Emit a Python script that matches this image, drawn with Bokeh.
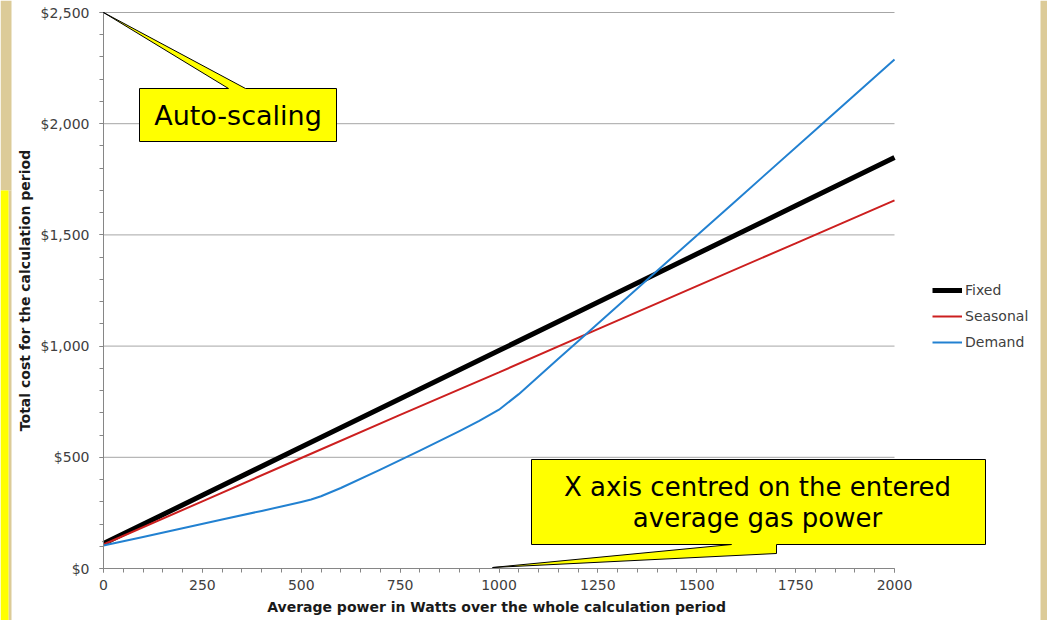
from bokeh.plotting import figure
from bokeh.models import (SingleIntervalTicker, NumeralTickFormatter, Legend, LegendItem,
                          PolyAnnotation, Label, Range1d)
from bokeh.embed import file_html
from bokeh.resources import INLINE

# ---- data ----
power = [0, 250, 500, 750, 1000, 1250, 1500, 1750, 2000]
fixed_cost = [112, 329, 546, 763, 980, 1197, 1414, 1631, 1848]
seasonal_cost = [108, 302, 497, 691, 882, 1076, 1270, 1462, 1655]
demand_power = [0, 100, 200, 300, 400, 450, 500, 525, 550, 600, 700, 800, 900, 950,
                1000, 1050, 1100, 1150, 1200, 1400, 1600, 1800, 2000]
demand_cost = [103, 142, 181, 220, 259, 279, 299, 310, 325, 362, 445, 530, 618, 664,
               714, 784, 863, 943, 1022, 1339, 1655, 1972, 2289]
series_names = ["Fixed", "Seasonal", "Demand"]
cost_gridlines = [500, 1000, 1500, 2000, 2500]
x_title = "Average power in Watts  over the whole calculation period"
y_title = "Total cost for the calculation period"
note1 = "Auto-scaling"
note2 = ["X axis centred on the entered", "average gas power"]

FONT = "DejaVu Sans"
AXIS_GRAY = "#868686"
TEXT_GRAY = "#404040"

W, H = 1047, 620
# plot area in page pixels: x 103..894 for 0..2000 W, y 568..12 for $0..$2,500
PX_L, PX_R, PY_B, PY_T = 103, 894, 568, 12
kx = (PX_R - PX_L) / 2000.0
ky = (PY_B - PY_T) / 2500.0
X0, X1 = -PX_L / kx, (W - PX_L) / kx
Y0, Y1 = -(H - PY_B) / ky, (PY_B) / ky


def dx(px):
    return X0 + px / kx


def dy(py):
    return Y1 - py / ky


p = figure(width=W, height=H, min_border=0,
           x_range=Range1d(X0, X1), y_range=Range1d(Y0, Y1),
           output_backend="svg", toolbar_location=None,
           background_fill_color="white", border_fill_color="white")
p.outline_line_color = None

# page edge strips
p.quad(left=[dx(0)], right=[dx(11)], bottom=[dy(190)], top=[dy(0)],
       fill_color="#DCCB98", line_color=None)
p.quad(left=[dx(8)], right=[dx(11)], bottom=[dy(H)], top=[dy(190)],
       fill_color="#DCCB98", line_color=None)
p.quad(left=[dx(0)], right=[dx(8)], bottom=[dy(H)], top=[dy(190)],
       fill_color="#FFFF00", line_color=None)
p.quad(left=[dx(1040)], right=[dx(W)], bottom=[dy(H)], top=[dy(0)],
       fill_color="#DCCB98", line_color=None)

# axes
p.xaxis.ticker = SingleIntervalTicker(interval=250, num_minor_ticks=5)
p.yaxis.ticker = SingleIntervalTicker(interval=500, num_minor_ticks=5)
p.yaxis.formatter = NumeralTickFormatter(format="$0,0")
p.xaxis.fixed_location = 0
p.yaxis.fixed_location = 0
p.xaxis.bounds = (0, 2000)
p.yaxis.bounds = (0, 2500)
for ax in (p.xaxis, p.yaxis):
    ax.axis_line_color = AXIS_GRAY
    ax.major_tick_line_color = AXIS_GRAY
    ax.minor_tick_line_color = AXIS_GRAY
    ax.major_tick_in = 0
    ax.major_tick_out = 4
    ax.minor_tick_in = 0
    ax.minor_tick_out = 4
    ax.major_label_text_font = FONT
    ax.major_label_text_font_size = "14px"
    ax.major_label_text_color = TEXT_GRAY
    ax.axis_label_text_font = FONT
    ax.axis_label_text_font_size = "14px"
    ax.axis_label_text_font_style = "bold"
    ax.axis_label_text_color = "#1a1a1a"
p.xaxis.axis_label = x_title
p.yaxis.axis_label = y_title
p.yaxis.major_label_standoff = 10
p.xaxis.major_label_standoff = 7
p.yaxis.axis_label_standoff = 5
p.xaxis.axis_label_standoff = 6

p.xgrid.grid_line_color = None
p.ygrid.grid_line_color = None
p.segment(x0=[0] * len(cost_gridlines), x1=[2000] * len(cost_gridlines),
          y0=cost_gridlines, y1=cost_gridlines, line_color="#A6A6A6", line_width=1)

# series
r_fixed = p.line(power, fixed_cost, line_color="black", line_width=5)
r_seas = p.line(power, seasonal_cost, line_color="#CC1F1F", line_width=2)
r_dem = p.line(demand_power, demand_cost, line_color="#2281D1", line_width=2,
               line_join="round")

legend = Legend(items=[LegendItem(label=series_names[0], renderers=[r_fixed]),
                       LegendItem(label=series_names[1], renderers=[r_seas]),
                       LegendItem(label=series_names[2], renderers=[r_dem])],
                location=(932, H - 352), orientation="vertical")
legend.glyph_width = 30
legend.glyph_height = 20
legend.label_height = 20
legend.label_standoff = 3
legend.spacing = 6
legend.padding = 0
legend.margin = 0
legend.border_line_color = None
legend.background_fill_alpha = 0
legend.label_text_font = FONT
legend.label_text_font_size = "14px"
legend.label_text_color = TEXT_GRAY
p.add_layout(legend)

# callouts
call1 = PolyAnnotation(xs=[dx(139), dx(228), 0, dx(245), dx(336), dx(336), dx(139)],
                       ys=[dy(88), dy(88), 2500, dy(88), dy(88), dy(141), dy(141)],
                       fill_color="#FFFF00", fill_alpha=1.0,
                       line_color="black", line_alpha=1.0, line_width=1)
p.add_layout(call1)
p.add_layout(Label(x=dx(237.5), y=dy(114.5), text=note1, text_align="center",
                   text_baseline="middle", text_font=FONT, text_font_size="27px",
                   text_color="black"))

call2 = PolyAnnotation(xs=[dx(531), dx(985), dx(985), dx(776), dx(776), dx(492), dx(731), dx(531)],
                       ys=[dy(459), dy(459), dy(544), dy(544), dy(553), dy(567), dy(544), dy(544)],
                       fill_color="#FFFF00", fill_alpha=1.0,
                       line_color="black", line_alpha=1.0, line_width=1)
p.add_layout(call2)
p.add_layout(Label(x=dx(757), y=dy(486), text=note2[0], text_align="center",
                   text_baseline="middle", text_font=FONT, text_font_size="26px",
                   text_color="black"))
p.add_layout(Label(x=dx(757), y=dy(517), text=note2[1], text_align="center",
                   text_baseline="middle", text_font=FONT, text_font_size="26px",
                   text_color="black"))

open("out.html", "w").write(file_html(p, INLINE))
